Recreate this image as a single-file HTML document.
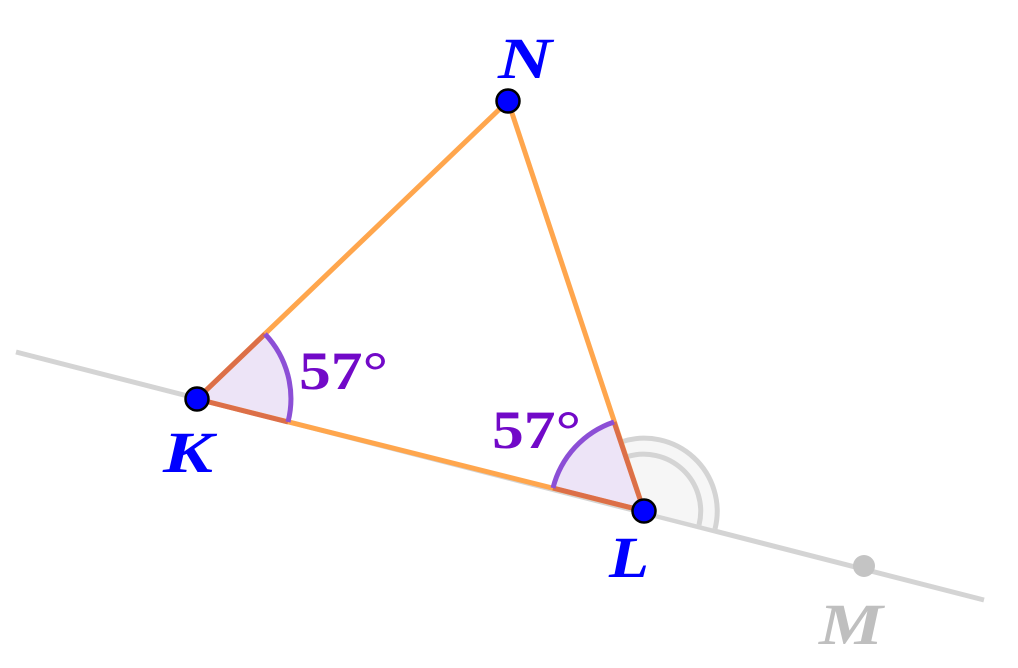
<!DOCTYPE html>
<html><head><style>html,body{margin:0;padding:0;background:#fff}</style></head>
<body>
<svg width="1018" height="663" xmlns="http://www.w3.org/2000/svg">
<line x1="16" y1="352" x2="984" y2="600" stroke="#d4d4d4" stroke-width="5"/>
<path d="M644,511 L621,442 A73,73 0 0 1 715,529 Z" fill="#f6f6f6" stroke="none"/>
<path d="M621,442 A73,73 0 0 1 715,529" fill="none" stroke="#d4d4d4" stroke-width="5"/>
<path d="M626,457 A57,57 0 0 1 699,525" fill="none" stroke="#d4d4d4" stroke-width="5"/>
<path d="M197,399 L265,334 A94,94 0 0 1 288,422 Z" fill="#ede4f7"/>
<path d="M644,511 L553,488 A94,94 0 0 1 614,422 Z" fill="#ede4f7"/>
<line x1="197" y1="399" x2="644" y2="511" stroke="#ffa64d" stroke-width="5"/>
<line x1="197" y1="399" x2="508" y2="101" stroke="#ffa64d" stroke-width="5"/>
<line x1="644" y1="511" x2="508" y2="101" stroke="#ffa64d" stroke-width="5"/>
<line x1="197" y1="399" x2="288" y2="422" stroke="#dc6f48" stroke-width="5"/>
<line x1="197" y1="399" x2="265" y2="334" stroke="#dc6f48" stroke-width="5"/>
<line x1="644" y1="511" x2="553" y2="488" stroke="#dc6f48" stroke-width="5"/>
<line x1="644" y1="511" x2="614" y2="422" stroke="#dc6f48" stroke-width="5"/>
<path d="M265,334 A94,94 0 0 1 288,422" fill="none" stroke="#8c4fd6" stroke-width="5"/>
<path d="M553,488 A94,94 0 0 1 614,422" fill="none" stroke="#8c4fd6" stroke-width="5"/>
<circle cx="864" cy="566" r="11" fill="#c4c4c4"/>
<circle cx="197" cy="399" r="11.5" fill="#0000ff" stroke="#000" stroke-width="2.5"/>
<circle cx="644" cy="511" r="11.5" fill="#0000ff" stroke="#000" stroke-width="2.5"/>
<circle cx="508" cy="101" r="11.5" fill="#0000ff" stroke="#000" stroke-width="2.5"/>
<g font-family="Liberation Serif, serif" font-weight="bold" font-style="italic" font-size="58">
<text x="498" y="78" fill="#0000ff" textLength="54" lengthAdjust="spacingAndGlyphs">N</text>
<text x="163" y="472" fill="#0000ff" textLength="50" lengthAdjust="spacingAndGlyphs">K</text>
<text x="609" y="577" fill="#0000ff" textLength="40" lengthAdjust="spacingAndGlyphs">L</text>
<text x="819" y="644" fill="#bfbfbf" textLength="64" lengthAdjust="spacingAndGlyphs">M</text>
</g>
<g font-family="Liberation Serif, serif" font-weight="bold" font-size="54" fill="#7209c8">
<text x="299" y="389" textLength="89" lengthAdjust="spacingAndGlyphs">57°</text>
<text x="492" y="448" textLength="89" lengthAdjust="spacingAndGlyphs">57°</text>
</g>
</svg>
</body></html>
